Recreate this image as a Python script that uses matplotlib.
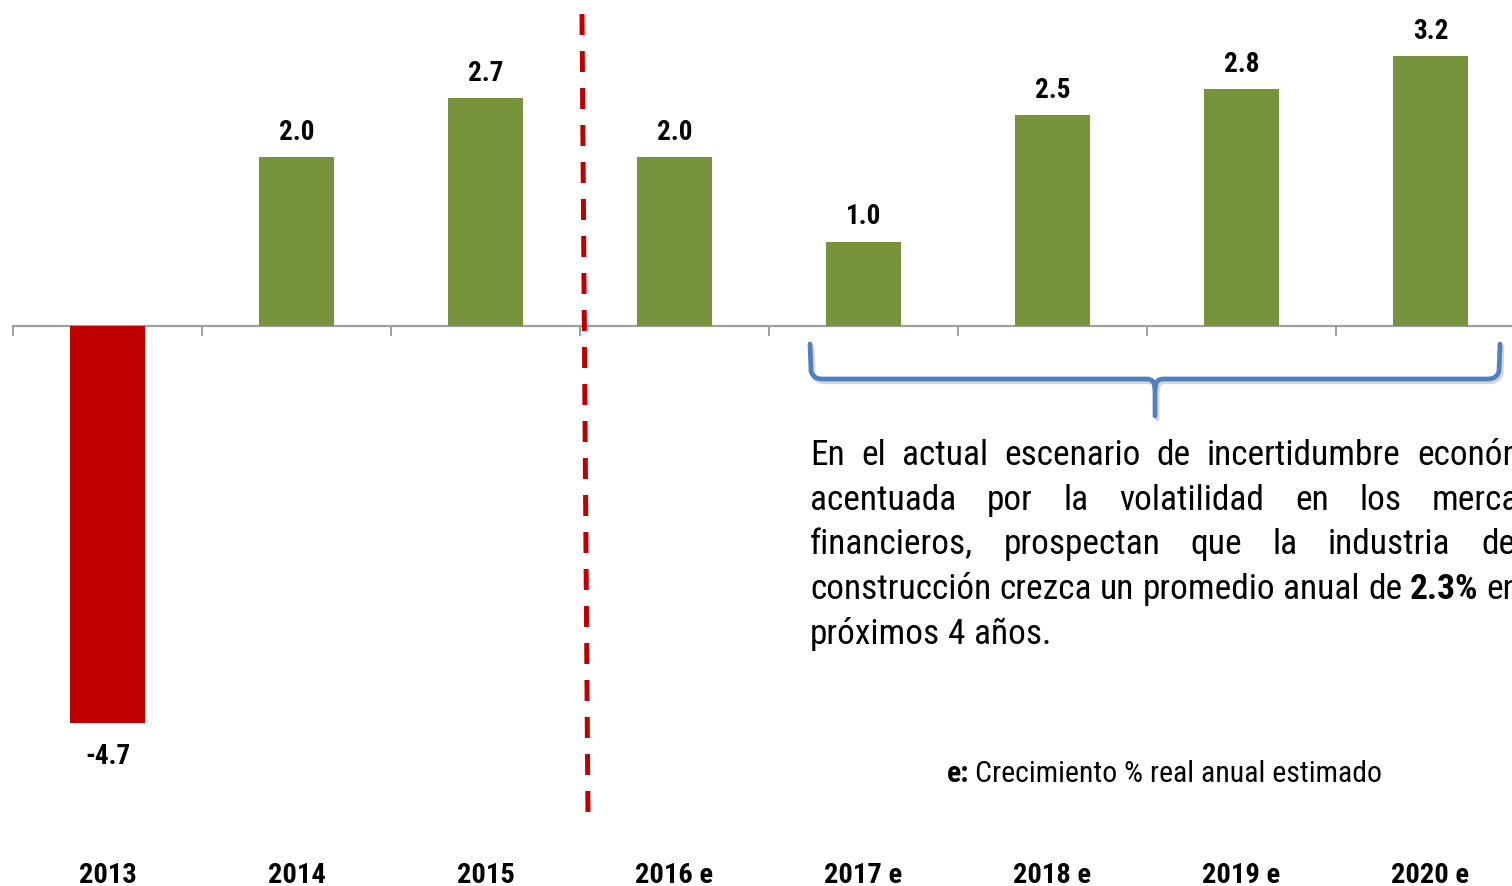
import matplotlib
matplotlib.use("Agg")
import matplotlib.pyplot as plt
import matplotlib.transforms as mtransforms
import matplotlib.patheffects as pe
from matplotlib.path import Path
from matplotlib.patches import PathPatch
from matplotlib import font_manager as fm


years = ["2013", "2014", "2015", "2016 e", "2017 e", "2018 e", "2019 e", "2020 e"]
growth = [-4.7, 2.0, 2.7, 2.0, 1.0, 2.5, 2.8, 3.2]

paragraph = [
    "En el actual escenario de incertidumbre económica",
    "acentuada por la volatilidad en los mercados",
    "financieros, prospectan que la industria de la",
    "construcción crezca un promedio anual de **2.3% en los",
    "próximos 4 años.",
]

# pick a narrow sans that has a bold face
have = {(f.name, f.weight) for f in fm.fontManager.ttflist}
candidates = ["Liberation Sans Narrow", "Arial Narrow", "Roboto Condensed",
              "Archivo Narrow", "Fira Sans Condensed", "PT Sans Narrow",
              "Pragati Narrow", "Barlow Semi Condensed"]
narrow = "DejaVu Sans"
for c in candidates:
    if (c, 400) in have and ((c, 700) in have or (c, "bold") in have):
        narrow = c
        break
FONT = [narrow, "DejaVu Sans"]

GREEN = "#77933C"
RED = "#C00000"
BLUE = "#4F81BD"

W, H = 1512, 887
fig = plt.figure(figsize=(W / 100, H / 100), dpi=100)
ax = fig.add_axes([13 / W, 0, 1.0, 1.0])

# pixel coords, origin top-left
pix = mtransforms.Affine2D().scale(1 / W, -1 / H).translate(0, 1) + fig.transFigure

colors = [RED if v < 0 else GREEN for v in growth]
x = list(range(len(years)))
ax.bar(x, growth, width=0.4, color=colors, zorder=3)

for xi, v in zip(x, growth):
    off = 18 if v >= 0 else -40
    ax.annotate(f"{v:.1f}", (xi, v), xytext=(0, off), textcoords="offset pixels",
                ha="center", va="baseline", fontsize=19.5, fontweight="bold",
                family=FONT)

ax.set_xlim(-0.5, 7.5)
ax.set_ylim(-(H - 327) / 84.5, 327 / 84.5)
for s in ["top", "right", "left"]:
    ax.spines[s].set_visible(False)
ax.spines["bottom"].set_position(("data", 0))
ax.spines["bottom"].set_color("#A0A0A0")
ax.spines["bottom"].set_linewidth(1.6)
ax.set_yticks([])
ax.set_xticks([i - 0.5 for i in range(len(years) + 1)])
ax.tick_params(axis="x", direction="out", length=7, width=1.4, color="#A0A0A0",
               labelbottom=False)

# category labels at the bottom
lab_tr = mtransforms.blended_transform_factory(ax.transData, pix)
for xi, name in zip(x, years):
    ax.text(xi, 883, name, transform=lab_tr, ha="center", va="baseline",
            fontsize=20.5, fontweight="bold", family=FONT)

# dashed divider between actual and estimated
ax.plot([582, 588], [15, 820], transform=pix, color=RED, lw=3.6,
        dashes=(4.2, 3.2), zorder=4, solid_capstyle="butt")

# curly brace over estimated years
L, R, C, top, mid, tip = 810, 1500, 1155, 345, 380, 417
verts = [(L, top), (L + 1, mid - 8), (L + 3, mid), (L + 12, mid),
         (C - 8, mid), (C, mid), (C, mid + 10), (C, tip),
         (C, mid + 10), (C, mid), (C + 8, mid),
         (R - 12, mid), (R - 3, mid), (R - 1, mid - 8), (R, top)]
codes = [Path.MOVETO, Path.LINETO, Path.CURVE3, Path.CURVE3,
         Path.LINETO, Path.CURVE3, Path.CURVE3, Path.LINETO,
         Path.MOVETO, Path.CURVE3, Path.CURVE3,
         Path.LINETO, Path.CURVE3, Path.CURVE3, Path.LINETO]
brace = PathPatch(Path(verts, codes), transform=pix, fill=False, edgecolor=BLUE,
                  lw=3.4, capstyle="round", joinstyle="round",
                  path_effects=[pe.SimpleLineShadow(offset=(1.5, -2), shadow_color="#888888", alpha=0.35),
                                pe.Normal()])
fig.add_artist(brace)

# justified paragraph
fig.canvas.draw()
renderer = fig.canvas.get_renderer()
PSIZE = 25.5


def measure(word, bold, size=PSIZE):
    t = fig.text(0, 0, word, fontsize=size, family=FONT,
                 fontweight="bold" if bold else "normal")
    w = t.get_window_extent(renderer).width
    t.remove()
    return w


def split_words(line):
    out = []
    for w in line.split(" "):
        if w.startswith("**"):
            out.append((w[2:], True))
        else:
            out.append((w, False))
    return out


space = measure("a a", False) - 2 * measure("a", False)
lines = [split_words(l) for l in paragraph]
ref = lines[3]
right = 810 + sum(measure(w, b) for w, b in ref) + space * (len(ref) - 1)

base0, step = 465, 44.7
for i, words in enumerate(lines):
    widths = [measure(w, b) for w, b in words]
    y = base0 + i * step
    if i == len(lines) - 1:
        gap = space
    else:
        gap = (right - 810 - sum(widths)) / (len(words) - 1)
    xpos = 810
    for (w, b), wd in zip(words, widths):
        fig.text(xpos, y, w, transform=pix, fontsize=PSIZE, family=FONT,
                 fontweight="bold" if b else "normal", va="baseline", ha="left")
        xpos += wd + gap

# footnote
t1 = fig.text(947, 782, "e:", transform=pix, fontsize=21.5, family=FONT,
              fontweight="bold", va="baseline")
w1 = t1.get_window_extent(renderer).width
fig.text(947 + w1 + 6, 782, "Crecimiento % real anual estimado", transform=pix,
         fontsize=21.5, family=FONT, va="baseline")

fig.savefig("out.png", dpi=100)
